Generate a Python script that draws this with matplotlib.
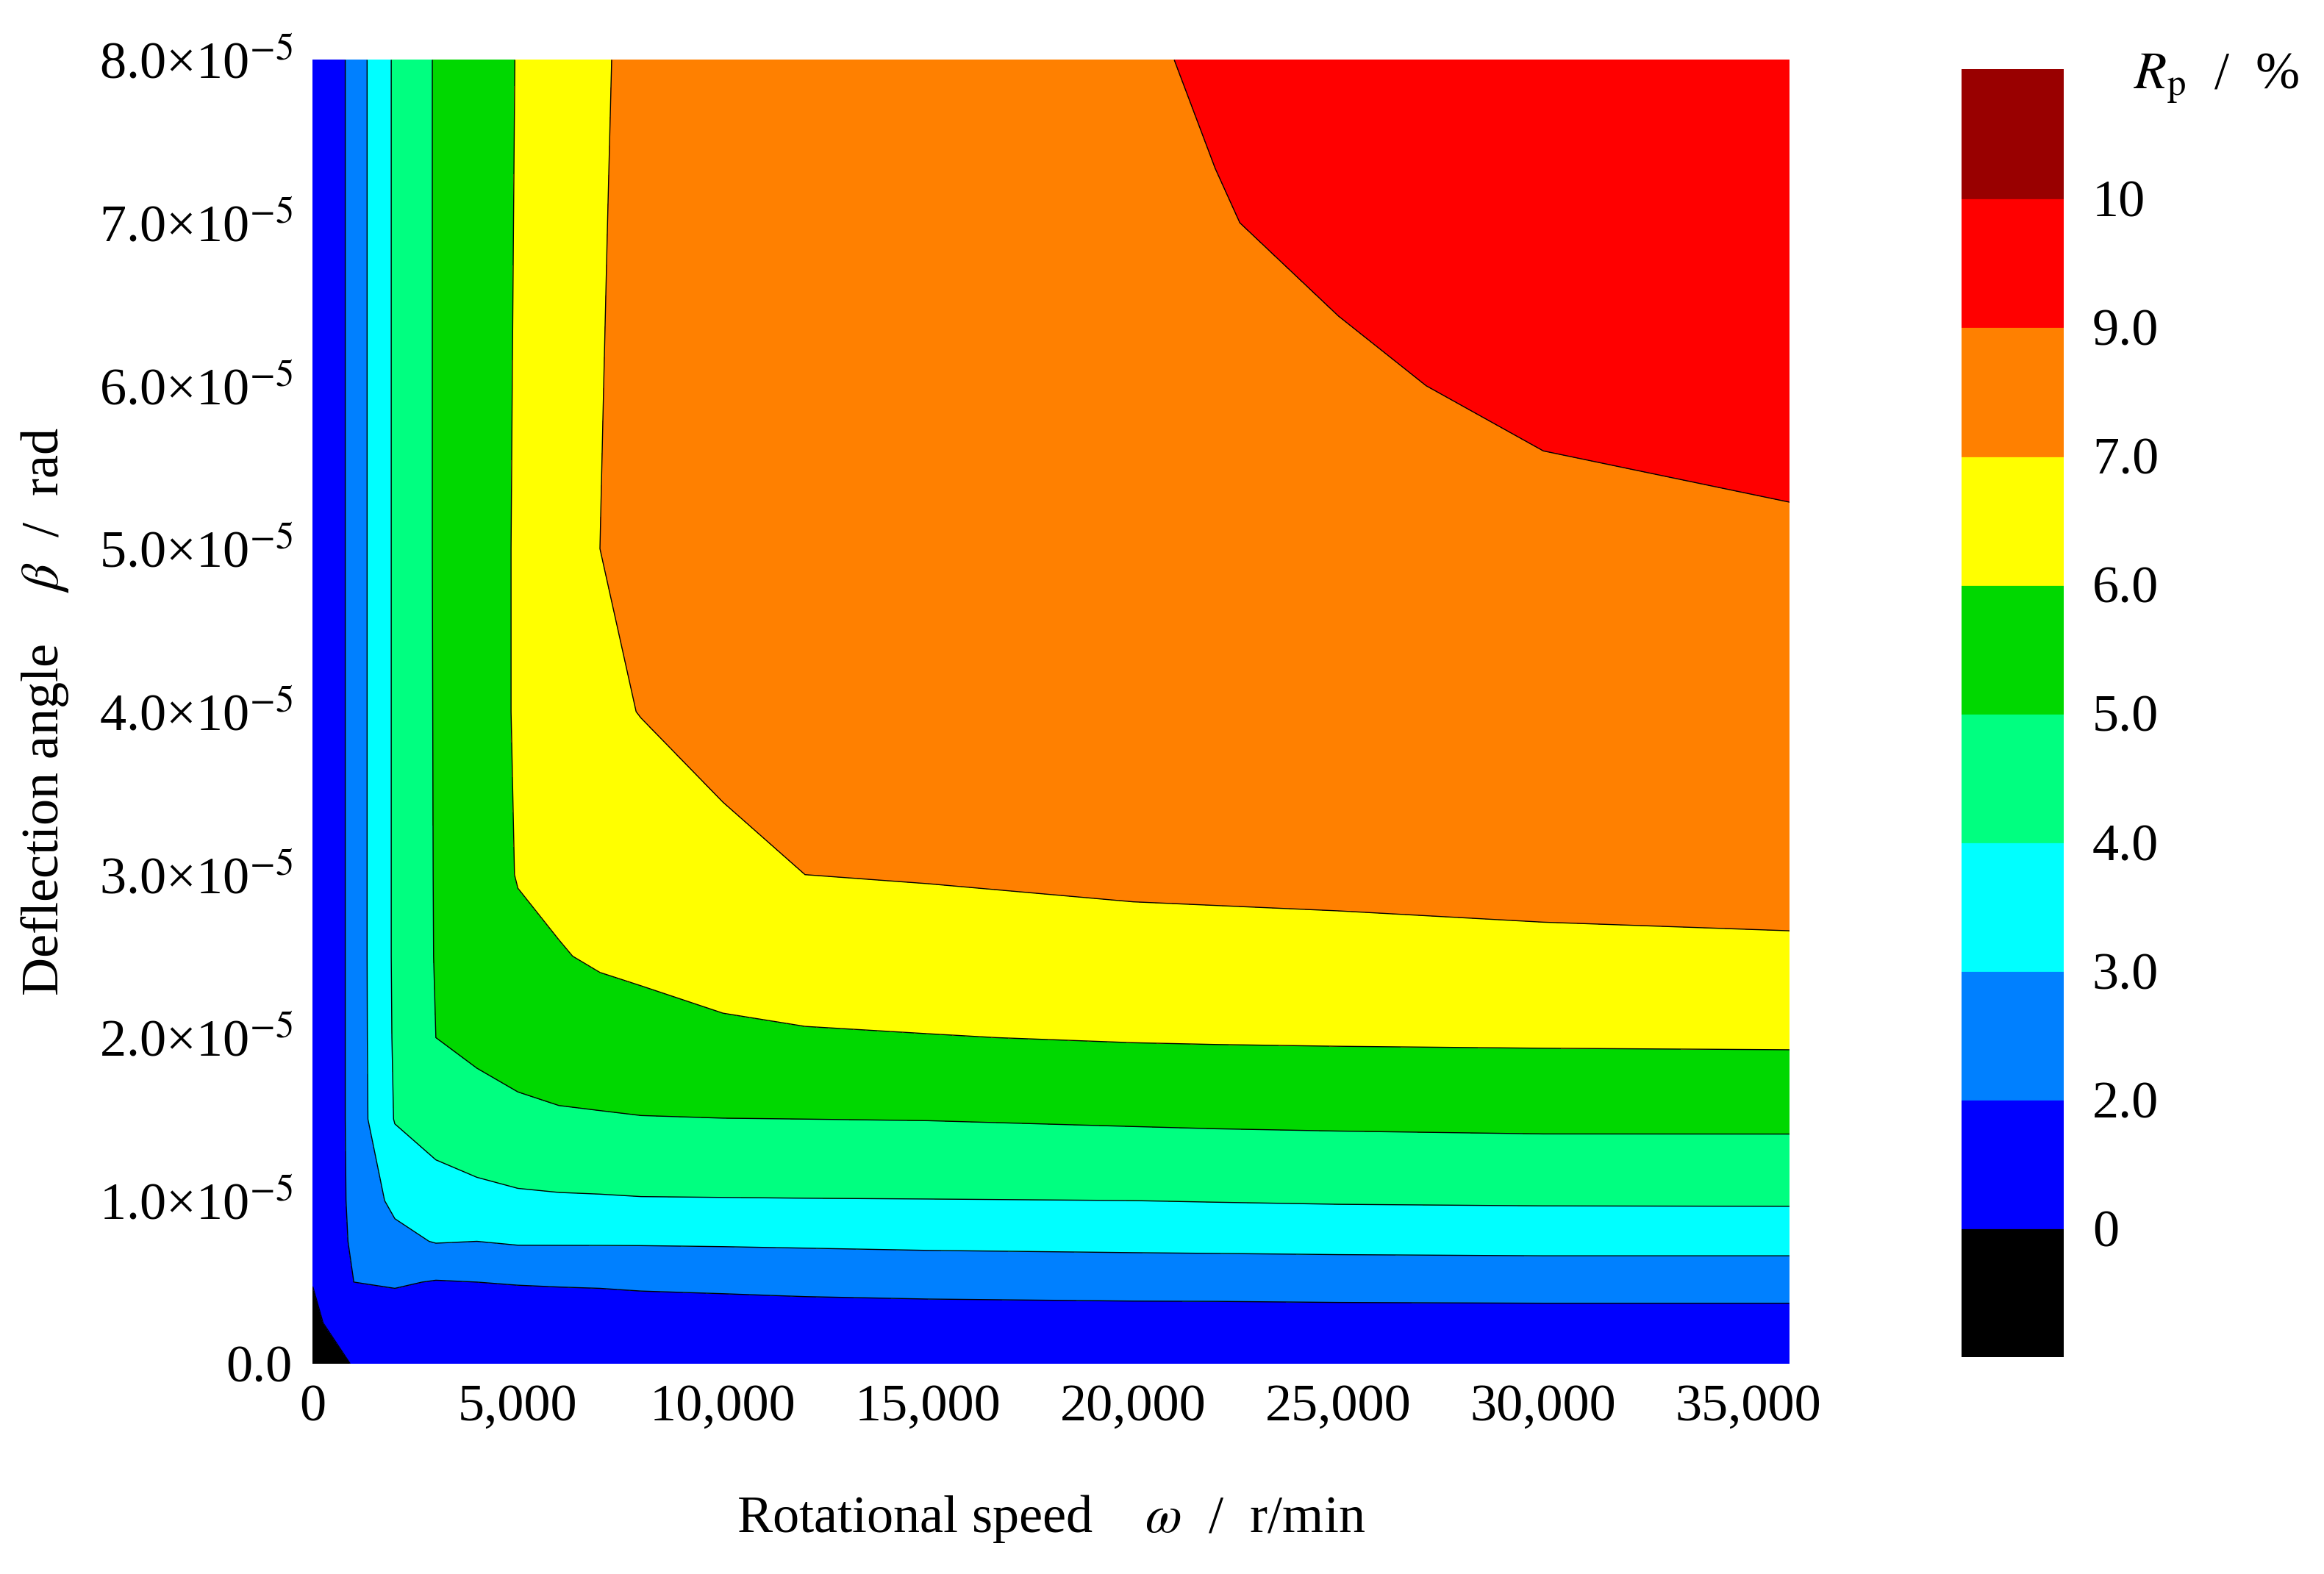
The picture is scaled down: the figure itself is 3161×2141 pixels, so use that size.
import numpy as np
import matplotlib
matplotlib.use("Agg")
import matplotlib.pyplot as plt
from matplotlib.colors import ListedColormap, BoundaryNorm

plt.rcParams['font.family'] = ['Liberation Serif', 'DejaVu Serif']
plt.rcParams['mathtext.fontset'] = 'stix'

omega = [0, 1000, 2000, 3000, 4000, 5000, 6000, 7000, 8000, 10000, 12000, 15000, 20000, 22000, 25000, 30000, 36000]
beta_e5 = [0, 0.25, 0.5, 0.75, 1.0, 1.5, 2.0, 2.5, 3.0, 4.0, 5.0, 6.0, 7.0, 8.0]
# Rp (%) columns per omega, rows per beta
rp_cols = [
    [-1.0, -0.4, 0.05, 0.2, 0.3, 0.3, 0.3, 0.3, 0.3, 0.3, 0.3, 0.3, 0.3, 0.3],
    [0.1, 1.2, 2.0, 2.3, 2.4, 2.45, 2.45, 2.45, 2.45, 2.45, 2.45, 2.45, 2.45, 2.45],
    [0.6, 1.45, 2.1, 2.75, 3.2, 4.05, 4.12, 4.15, 4.15, 4.15, 4.15, 4.15, 4.15, 4.15],
    [0.65, 1.3, 1.95, 3.05, 3.5, 4.5, 5.0, 5.05, 5.06, 5.07, 5.08, 5.08, 5.08, 5.08],
    [0.7, 1.35, 2.0, 3.0, 3.7, 4.75, 5.15, 5.35, 5.45, 5.5, 5.5, 5.5, 5.5, 5.5],
    [0.75, 1.4, 2.05, 3.1, 3.85, 4.85, 5.3, 5.75, 6.05, 6.1, 6.1, 6.08, 6.06, 6.04],
    [0.8, 1.42, 2.08, 3.1, 3.9, 4.9, 5.5, 5.95, 6.2, 6.4, 6.45, 6.45, 6.45, 6.4],
    [0.8, 1.45, 2.1, 3.1, 3.92, 4.93, 5.6, 6.1, 6.4, 6.85, 7.0, 6.98, 6.95, 6.9],
    [0.85, 1.47, 2.15, 3.1, 3.95, 4.97, 5.65, 6.2, 6.5, 7.02, 7.15, 7.2, 7.22, 7.25],
    [0.9, 1.5, 2.2, 3.12, 3.96, 4.99, 5.85, 6.35, 6.8, 7.25, 7.45, 7.55, 7.6, 7.65],
    [0.9, 1.55, 2.25, 3.15, 3.97, 5.0, 5.92, 6.5, 7.0, 7.4, 7.6, 7.75, 7.85, 7.9],
    [0.95, 1.58, 2.3, 3.2, 3.98, 5.02, 5.97, 6.6, 7.05, 7.5, 7.8, 8.0, 8.15, 8.25],
    [0.95, 1.6, 2.35, 3.25, 4.0, 5.1, 6.06, 6.7, 7.15, 7.7, 8.1, 8.45, 8.7, 8.9],
    [1.0, 1.6, 2.36, 3.27, 4.03, 5.13, 6.08, 6.72, 7.17, 7.75, 8.2, 8.7, 8.95, 9.1],
    [1.0, 1.62, 2.38, 3.3, 4.07, 5.16, 6.1, 6.75, 7.2, 7.85, 8.4, 8.85, 9.2, 9.45],
    [1.0, 1.63, 2.4, 3.33, 4.1, 5.2, 6.12, 6.8, 7.28, 8.0, 8.7, 9.2, 9.5, 9.7],
    [1.0, 1.63, 2.4, 3.33, 4.11, 5.2, 6.14, 6.86, 7.31, 8.1, 8.88, 9.3, 9.6, 9.85],
]
levels = [-2, 0, 2, 3, 4, 5, 6, 7, 9, 10, 12]
colors = ['#000000', '#0000FF', '#0080FF', '#00FFFF', '#00FF80', '#00D800',
          '#FFFF00', '#FF8000', '#FF0000', '#990000']
cbar_labels = ['0', '2.0', '3.0', '4.0', '5.0', '6.0', '7.0', '9.0', '10']

X, Y = np.meshgrid(np.array(omega), np.array(beta_e5) * 1e-5)
Z = np.array(rp_cols).T

fig = plt.figure(figsize=(15.805, 10.705), dpi=200)
ax = fig.add_axes([0.1346, 0.1337, 0.6354, 0.8283])
cmap = ListedColormap(colors)
norm = BoundaryNorm(levels, cmap.N)
ax.contourf(X, Y, Z, levels=levels, cmap=cmap, norm=norm)
ax.contour(X, Y, Z, levels=levels[1:-1], colors='k', linewidths=0.5)
ax.set_xlim(0, 36000)
ax.set_ylim(0, 8e-5)
xt = [0, 5000, 10000, 15000, 20000, 25000, 30000, 35000]
ax.set_xticks(xt)
ax.set_xticklabels(['0'] + [f'{v:,}' for v in xt[1:]])
yt = [i * 1e-5 for i in range(9)]
ax.set_yticks(yt)
ax.set_yticklabels(['0.0'] + [f'{i}.0×10$^{{-5}}$' for i in range(1, 9)])
ax.tick_params(labelsize=26, length=0, pad=10)
for s in ax.spines.values():
    s.set_visible(False)
ax.set_xlabel('Rotational speed    $\\omega$  /  r/min', fontsize=26, labelpad=30)
ax.set_ylabel('Deflection angle    $\\beta$  /  rad', fontsize=26, labelpad=14)

cax = fig.add_axes([0.844, 0.138, 0.044, 0.818])
n = len(colors)
for i, c in enumerate(colors):
    cax.add_patch(plt.Rectangle((0, i), 1, 1, color=c))
cax.set_xlim(0, 1)
cax.set_ylim(0, n)
cax.set_xticks([])
cax.set_yticks(range(1, n))
cax.set_yticklabels(cbar_labels)
cax.yaxis.tick_right()
cax.tick_params(labelsize=26, length=0, pad=14)
for s in cax.spines.values():
    s.set_visible(False)
fig.text(0.918, 0.95, '$R_{\\mathrm{p}}$  /  %', fontsize=26, ha='left', va='center')

fig.savefig('out.png', dpi=200)
